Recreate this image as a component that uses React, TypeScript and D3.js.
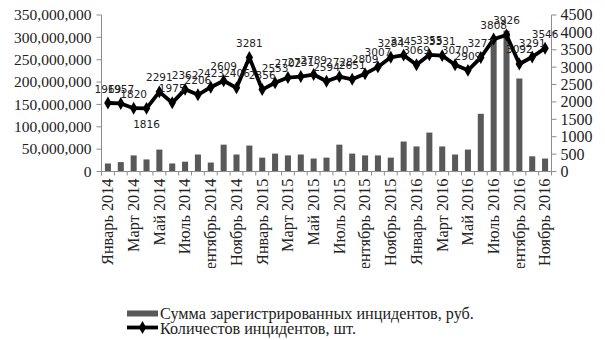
import React from 'react';
import * as d3 from 'd3';

// Months, January 2014 – November 2016
const categories: string[] = [
  'Январь 2014', 'Февраль 2014', 'Март 2014', 'Апрель 2014', 'Май 2014', 'Июнь 2014',
  'Июль 2014', 'Август 2014', 'Сентябрь 2014', 'Октябрь 2014', 'Ноябрь 2014', 'Декабрь 2014',
  'Январь 2015', 'Февраль 2015', 'Март 2015', 'Апрель 2015', 'Май 2015', 'Июнь 2015',
  'Июль 2015', 'Август 2015', 'Сентябрь 2015', 'Октябрь 2015', 'Ноябрь 2015', 'Декабрь 2015',
  'Январь 2016', 'Февраль 2016', 'Март 2016', 'Апрель 2016', 'Май 2016', 'Июнь 2016',
  'Июль 2016', 'Август 2016', 'Сентябрь 2016', 'Октябрь 2016', 'Ноябрь 2016',
];

// Sum of registered incidents, rub.
const amounts: number[] = [
  18e6, 21e6, 36e6, 27e6, 49e6, 18e6, 22e6, 38e6, 20e6, 60e6, 38e6, 58e6,
  31e6, 40e6, 36e6, 38e6, 29e6, 31e6, 60e6, 40e6, 36e6, 36e6, 31e6, 67e6,
  56e6, 87e6, 56e6, 38e6, 49e6, 129e6, 300e6, 315e6, 208e6, 34e6, 29e6,
];

// Number of incidents, pcs.
const counts: number[] = [
  1969, 1957, 1820, 1816, 2291, 1975, 2362, 2206, 2423, 2609, 2406, 3281,
  2356, 2553, 2702, 2731, 2789, 2594, 2728, 2651, 2809, 3007, 3284, 3345,
  3069, 3355, 3331, 3070, 2909, 3277, 3808, 3926, 3092, 3291, 3546,
];

const leftTicks: number[] = [0, 50e6, 100e6, 150e6, 200e6, 250e6, 300e6, 350e6];
const rightTicks: number[] = [0, 500, 1000, 1500, 2000, 2500, 3000, 3500, 4000, 4500];

// labels drawn under their marker instead of above
const labelsBelow: number[] = [3];

const legendLabels: string[] = [
  'Сумма зарегистрированных инцидентов, руб.',
  'Количестов инцидентов, шт.',
];

const W = 605;
const H = 340;
const plot = { left: 101.5, right: 551.5, top: 15, bottom: 171.5 };
const axisColor = '#8c8c8c';
const barColor = '#595959';
const serif = '"Liberation Serif", "Times New Roman", serif';
const sans = '"DejaVu Sans", Verdana, sans-serif';

export default function App() {
  const x = d3.scaleBand<string>().domain(categories).range([plot.left, plot.right]).padding(0);
  const yL = d3.scaleLinear().domain([0, 350e6]).range([plot.bottom, plot.top]);
  const yR = d3.scaleLinear().domain([0, 4500]).range([plot.bottom, plot.top]);
  const bw = x.bandwidth();
  const barW = bw * 0.47;
  const cx = (i: number) => (x(categories[i]) as number) + bw / 2;

  const line = d3
    .line<number>()
    .x((_, i) => cx(i))
    .y((d) => yR(d));
  const diamond = d3.symbol().type(d3.symbolDiamond).size(48)() as string;
  const fmtL = d3.format(',');

  return (
    <svg
      width={W}
      height={H}
      viewBox={`0 0 ${W} ${H}`}
      style={{ position: 'absolute', left: 0, top: 0, background: '#fff' }}
    >
      <defs>
        <clipPath id="xlabels-clip">
          <rect x={0} y={plot.bottom} width={W} height={268 - plot.bottom} />
        </clipPath>
      </defs>

      {/* bars */}
      {amounts.map((v, i) => (
        <rect
          key={`b${i}`}
          x={cx(i) - barW / 2}
          y={yL(v)}
          width={barW}
          height={plot.bottom - yL(v)}
          fill={barColor}
        />
      ))}

      {/* axes */}
      <line x1={plot.left} x2={plot.left} y1={plot.top} y2={plot.bottom} stroke={axisColor} />
      <line x1={plot.right} x2={plot.right} y1={plot.top} y2={plot.bottom} stroke={axisColor} />
      <line x1={plot.left} x2={plot.right} y1={plot.bottom} y2={plot.bottom} stroke={axisColor} />
      {leftTicks.map((t) => (
        <g key={`lt${t}`}>
          <line x1={plot.left - 5} x2={plot.left} y1={yL(t)} y2={yL(t)} stroke={axisColor} />
          <text
            x={plot.left - 10}
            y={yL(t)}
            dy="0.34em"
            textAnchor="end"
            fontFamily={serif}
            fontSize={15.5}
            fill="#222"
          >
            {fmtL(t)}
          </text>
        </g>
      ))}
      {rightTicks.map((t) => (
        <g key={`rt${t}`}>
          <line x1={plot.right} x2={plot.right + 5} y1={yR(t)} y2={yR(t)} stroke={axisColor} />
          <text
            x={plot.right + 9}
            y={yR(t)}
            dy="0.34em"
            textAnchor="start"
            fontFamily={serif}
            fontSize={16}
            fill="#222"
          >
            {t}
          </text>
        </g>
      ))}
      {d3.range(categories.length + 1).map((i) => {
        const xx = plot.left + i * bw;
        return (
          <line key={`xt${i}`} x1={xx} x2={xx} y1={plot.bottom} y2={plot.bottom + 4} stroke={axisColor} />
        );
      })}
      <g clipPath="url(#xlabels-clip)">
        {categories.map((c, i) =>
          i % 2 === 0 ? (
            <text
              key={`xl${i}`}
              transform={`translate(${cx(i)},${plot.bottom + 7}) rotate(-90)`}
              dy="0.33em"
              textAnchor="end"
              fontFamily={serif}
              fontSize={16.3}
              fill="#222"
            >
              {c}
            </text>
          ) : null
        )}
      </g>

      {/* incident count line */}
      <path d={line(counts) as string} fill="none" stroke="#000" strokeWidth={3.8} strokeLinejoin="round" />
      {counts.map((v, i) => (
        <path key={`m${i}`} d={diamond} transform={`translate(${cx(i)},${yR(v)})`} fill="#000" />
      ))}
      {counts.map((v, i) => {
        const below = labelsBelow.includes(i);
        return (
          <text
            key={`dl${i}`}
            x={cx(i)}
            y={yR(v) + (below ? 19.5 : -10.5)}
            textAnchor="middle"
            fontFamily={sans}
            fontSize={10.5}
            fill="#222"
          >
            {v}
          </text>
        );
      })}

      {/* legend */}
      <rect x={127} y={310.5} width={31} height={6} fill={barColor} />
      <text x={160} y={319} fontFamily={serif} fontSize={16.2} fill="#222">
        {legendLabels[0]}
      </text>
      <line x1={127} x2={158} y1={327.5} y2={327.5} stroke="#000" strokeWidth={3.8} />
      <path d={diamond} transform="translate(142.5,327.5)" fill="#000" />
      <text x={160} y={334} fontFamily={serif} fontSize={16.2} fill="#222">
        {legendLabels[1]}
      </text>
    </svg>
  );
}
